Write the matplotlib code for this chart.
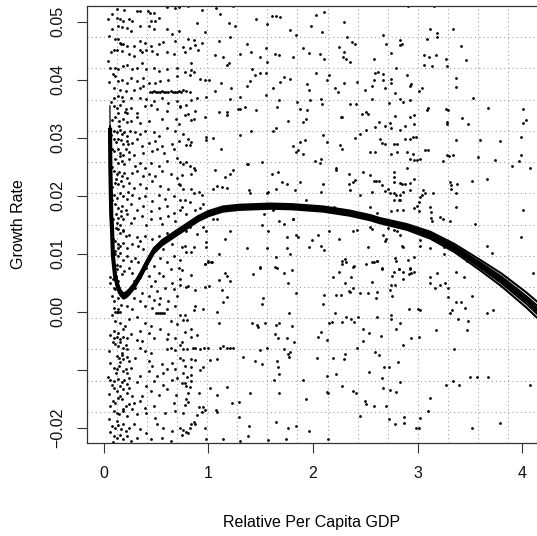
import matplotlib
matplotlib.use("Agg")
import matplotlib.pyplot as plt
import numpy as np

plt.rcParams['font.family'] = ['Liberation Sans', 'DejaVu Sans']

# scatter: (relative per capita gdp, growth rate)
pts_band_top = [
    (0.08, 0.0514), (0.13, 0.0522), (0.20, 0.0521), (0.32, 0.0519), (0.35, 0.0518), (0.42, 0.0519), (0.44, 0.0515),
    (0.48, 0.0515), (0.61, 0.0526), (0.68, 0.0524), (0.72, 0.0525), (0.13, 0.0507), (0.16, 0.0504), (0.19, 0.0501),
    (0.24, 0.0504), (0.27, 0.0501), (0.45, 0.0501), (0.49, 0.0501), (0.53, 0.0507), (0.14, 0.0493), (0.18, 0.0491),
    (0.22, 0.0490), (0.26, 0.0484), (0.35, 0.0493), (0.43, 0.0493), (0.48, 0.0487), (0.61, 0.0487), (0.65, 0.0478),
    (0.72, 0.0484), (0.11, 0.0470), (0.14, 0.0470), (0.16, 0.0464), (0.19, 0.0461), (0.22, 0.0458), (0.29, 0.0458),
    (0.35, 0.0467), (0.40, 0.0464), (0.45, 0.0458), (0.53, 0.0461), (0.57, 0.0465), (0.68, 0.0467), (0.10, 0.0452),
    (0.13, 0.0452), (0.18, 0.0449), (0.24, 0.0444), (0.29, 0.0441), (0.35, 0.0452), (0.37, 0.0447), (0.41, 0.0452),
    (0.46, 0.0449), (0.51, 0.0444), (0.61, 0.0447), (0.67, 0.0444), (0.06, 0.0421), (0.11, 0.0421), (0.14, 0.0418),
    (0.19, 0.0424), (0.22, 0.0426), (0.27, 0.0418), (0.32, 0.0421), (0.37, 0.0429), (0.41, 0.0418), (0.48, 0.0421),
    (0.53, 0.0415), (0.61, 0.0418), (0.70, 0.0421), (0.11, 0.0406), (0.14, 0.0398), (0.18, 0.0400), (0.22, 0.0395),
    (0.26, 0.0403), (0.32, 0.0398), (0.38, 0.0403), (0.43, 0.0395), (0.49, 0.0395), (0.54, 0.0398), (0.62, 0.0400),
    (0.70, 0.0406), (0.10, 0.0386), (0.16, 0.0383), (0.21, 0.0380), (0.29, 0.0383), (0.35, 0.0386), (0.38, 0.0389),
    (0.44, 0.0379), (0.46, 0.0378), (0.48, 0.0380), (0.50, 0.0379), (0.52, 0.0378), (0.54, 0.0379), (0.56, 0.0380),
    (0.58, 0.0379), (0.60, 0.0378), (0.62, 0.0379), (0.64, 0.0380), (0.66, 0.0379), (0.68, 0.0378), (0.70, 0.0379),
    (0.72, 0.0380), (0.10, 0.0369), (0.14, 0.0372), (0.19, 0.0363), (0.26, 0.0369), (0.35, 0.0369), (0.41, 0.0366),
    (0.48, 0.0363), (0.56, 0.0369), (0.62, 0.0360), (0.70, 0.0363), (0.10, 0.0355), (0.13, 0.0352), (0.16, 0.0357),
    (0.21, 0.0349), (0.26, 0.0352), (0.32, 0.0343), (0.40, 0.0355), (0.45, 0.0357), (0.51, 0.0349), (0.61, 0.0346),
    (0.73, 0.0355), (0.14, 0.0343), (0.22, 0.0343),
]

pts_band_upper = [
    (0.11, 0.0335), (0.15, 0.0329), (0.19, 0.0332), (0.22, 0.0327), (0.26, 0.0329), (0.32, 0.0335), (0.35, 0.0326),
    (0.43, 0.0329), (0.56, 0.0332), (0.69, 0.0333), (0.72, 0.0323), (0.10, 0.0312), (0.13, 0.0309), (0.16, 0.0314),
    (0.18, 0.0306), (0.20, 0.0310), (0.22, 0.0303), (0.25, 0.0312), (0.30, 0.0309), (0.35, 0.0306), (0.40, 0.0312),
    (0.48, 0.0309), (0.53, 0.0303), (0.61, 0.0317), (0.68, 0.0312), (0.10, 0.0297), (0.12, 0.0293), (0.14, 0.0298),
    (0.17, 0.0296), (0.19, 0.0289), (0.22, 0.0294), (0.27, 0.0291), (0.32, 0.0297), (0.37, 0.0286), (0.43, 0.0291),
    (0.49, 0.0294), (0.56, 0.0286), (0.65, 0.0289), (0.72, 0.0294), (0.10, 0.0277), (0.14, 0.0280), (0.16, 0.0273),
    (0.19, 0.0270), (0.21, 0.0280), (0.24, 0.0275), (0.29, 0.0271), (0.38, 0.0274), (0.46, 0.0277), (0.51, 0.0280),
    (0.58, 0.0273), (0.67, 0.0280), (0.11, 0.0263), (0.14, 0.0257), (0.18, 0.0260), (0.20, 0.0254), (0.24, 0.0263),
    (0.30, 0.0251), (0.35, 0.0257), (0.40, 0.0248), (0.45, 0.0257), (0.53, 0.0251), (0.61, 0.0260), (0.70, 0.0265),
    (0.10, 0.0243), (0.13, 0.0237), (0.15, 0.0241), (0.18, 0.0234), (0.20, 0.0239), (0.22, 0.0231), (0.27, 0.0240),
    (0.32, 0.0243), (0.38, 0.0234), (0.43, 0.0237), (0.49, 0.0234), (0.56, 0.0243), (0.64, 0.0237), (0.70, 0.0231),
    (0.11, 0.0222), (0.14, 0.0220), (0.17, 0.0225), (0.19, 0.0217), (0.24, 0.0222), (0.29, 0.0214), (0.35, 0.0220),
    (0.41, 0.0214), (0.46, 0.0225), (0.54, 0.0217), (0.62, 0.0211), (0.72, 0.0220), (0.10, 0.0202), (0.13, 0.0196),
    (0.16, 0.0204), (0.19, 0.0199), (0.22, 0.0194), (0.27, 0.0202), (0.34, 0.0196), (0.40, 0.0199), (0.46, 0.0191),
    (0.53, 0.0202), (0.59, 0.0194), (0.67, 0.0199), (0.11, 0.0185), (0.14, 0.0179), (0.18, 0.0182), (0.21, 0.0176),
    (0.26, 0.0185), (0.32, 0.0176), (0.38, 0.0182), (0.45, 0.0174), (0.53, 0.0179), (0.61, 0.0182), (0.67, 0.0171),
    (0.73, 0.0176), (0.12, 0.0168), (0.14, 0.0162), (0.17, 0.0165), (0.19, 0.0159), (0.22, 0.0168), (0.29, 0.0162),
    (0.37, 0.0165), (0.45, 0.0159), (0.54, 0.0162), (0.62, 0.0165), (0.68, 0.0156), (0.13, 0.0153), (0.16, 0.0150),
    (0.26, 0.0153), (0.41, 0.0150), (0.56, 0.0152),
]

pts_band_mid = [
    (0.12, 0.0145), (0.14, 0.0142), (0.16, 0.0136), (0.19, 0.0139), (0.21, 0.0130), (0.24, 0.0133), (0.32, 0.0128),
    (0.35, 0.0122), (0.40, 0.0130), (0.46, 0.0125), (0.53, 0.0130), (0.61, 0.0136), (0.70, 0.0139), (0.11, 0.0122),
    (0.14, 0.0116), (0.16, 0.0113), (0.19, 0.0119), (0.22, 0.0110), (0.27, 0.0116), (0.33, 0.0113), (0.38, 0.0108),
    (0.57, 0.0108), (0.65, 0.0116), (0.11, 0.0099), (0.14, 0.0096), (0.16, 0.0102), (0.19, 0.0090), (0.22, 0.0096),
    (0.26, 0.0088), (0.30, 0.0093), (0.33, 0.0085), (0.54, 0.0093), (0.61, 0.0085), (0.67, 0.0096), (0.73, 0.0090),
    (0.10, 0.0076), (0.13, 0.0073), (0.16, 0.0079), (0.20, 0.0070), (0.24, 0.0076), (0.27, 0.0067), (0.41, 0.0076),
    (0.48, 0.0079), (0.53, 0.0067), (0.64, 0.0073), (0.72, 0.0076), (0.06, 0.0059), (0.09, 0.0056), (0.12, 0.0062),
    (0.14, 0.0053), (0.29, 0.0053), (0.35, 0.0059), (0.43, 0.0062), (0.49, 0.0053), (0.57, 0.0062), (0.65, 0.0050),
    (0.73, 0.0056), (0.10, 0.0041), (0.11, 0.0039), (0.24, 0.0036), (0.30, 0.0041), (0.37, 0.0033), (0.45, 0.0044),
    (0.51, 0.0036), (0.59, 0.0041), (0.67, 0.0039), (0.08, 0.0027), (0.10, 0.0019), (0.29, 0.0024), (0.35, 0.0019),
    (0.43, 0.0027), (0.48, 0.0021), (0.54, 0.0024), (0.62, 0.0019), (0.70, 0.0027), (0.10, 0.0007), (0.14, 0.0004),
    (0.22, 0.0010), (0.27, 0.0005), (0.40, 0.0010), (0.46, 0.0007), (0.53, 0.0013), (0.61, 0.0004), (0.68, 0.0010),
    (0.11, 0.0000), (0.125, 0.0000), (0.14, 0.0000), (0.155, 0.0000), (0.50, -0.0002), (0.52, -0.0002),
    (0.54, -0.0002), (0.56, -0.0002), (0.58, -0.0002), (0.11, -0.0016), (0.16, -0.0019), (0.24, -0.0013),
    (0.32, -0.0010), (0.40, -0.0019), (0.45, -0.0025), (0.64, -0.0016), (0.70, -0.0022), (0.10, -0.0033),
    (0.14, -0.0036), (0.19, -0.0030), (0.26, -0.0039), (0.35, -0.0033), (0.43, -0.0036), (0.54, -0.0030),
    (0.62, -0.0039),
]

pts_band_low = [
    (0.10, -0.0045), (0.13, -0.0044), (0.16, -0.0047), (0.19, -0.0043), (0.22, -0.0045), (0.32, -0.0048),
    (0.37, -0.0051), (0.48, -0.0045), (0.61, -0.0047), (0.68, -0.0045), (0.11, -0.0056), (0.14, -0.0059),
    (0.16, -0.0053), (0.19, -0.0062), (0.21, -0.0058), (0.22, -0.0065), (0.35, -0.0062), (0.40, -0.0068),
    (0.45, -0.0071), (0.61, -0.0065), (0.64, -0.0062), (0.68, -0.0066), (0.13, -0.0076), (0.15, -0.0079),
    (0.18, -0.0074), (0.19, -0.0082), (0.22, -0.0078), (0.16, -0.0087), (0.24, -0.0085), (0.30, -0.0079),
    (0.43, -0.0085), (0.46, -0.0094), (0.56, -0.0091), (0.61, -0.0099), (0.65, -0.0088), (0.73, -0.0079),
    (0.10, -0.0097), (0.13, -0.0099), (0.15, -0.0094), (0.19, -0.0102), (0.21, -0.0098), (0.22, -0.0105),
    (0.26, -0.0097), (0.35, -0.0111), (0.43, -0.0102), (0.51, -0.0111), (0.57, -0.0105), (0.68, -0.0099),
    (0.06, -0.0117), (0.10, -0.0120), (0.14, -0.0116), (0.18, -0.0122), (0.20, -0.0118), (0.22, -0.0125),
    (0.24, -0.0114), (0.32, -0.0122), (0.41, -0.0128), (0.48, -0.0120), (0.57, -0.0127), (0.65, -0.0117),
    (0.70, -0.0114), (0.10, -0.0131), (0.13, -0.0137), (0.16, -0.0128), (0.19, -0.0134), (0.22, -0.0140),
    (0.24, -0.0131), (0.27, -0.0145), (0.37, -0.0145), (0.45, -0.0137), (0.53, -0.0143), (0.61, -0.0133),
    (0.69, -0.0143), (0.09, -0.0154), (0.11, -0.0157), (0.14, -0.0148), (0.18, -0.0151), (0.21, -0.0163),
    (0.24, -0.0160), (0.29, -0.0157), (0.35, -0.0154), (0.40, -0.0166), (0.48, -0.0163), (0.67, -0.0157),
    (0.10, -0.0171), (0.13, -0.0174), (0.15, -0.0177), (0.19, -0.0171), (0.22, -0.0180), (0.27, -0.0168),
    (0.32, -0.0177), (0.41, -0.0174), (0.49, -0.0183), (0.59, -0.0174), (0.68, -0.0171), (0.08, -0.0197),
    (0.11, -0.0200), (0.14, -0.0196), (0.17, -0.0203), (0.19, -0.0193), (0.21, -0.0206), (0.24, -0.0200),
    (0.29, -0.0194), (0.35, -0.0203), (0.41, -0.0209), (0.51, -0.0194), (0.57, -0.0200), (0.65, -0.0206),
    (0.73, -0.0200), (0.10, -0.0214), (0.13, -0.0217), (0.16, -0.0212), (0.19, -0.0220), (0.22, -0.0214),
    (0.26, -0.0223), (0.32, -0.0217), (0.45, -0.0220), (0.56, -0.0217), (0.64, -0.0223),
]

pts_band_extra = [
    (0.045, 0.0505), (0.085, 0.0488), (0.055, 0.0476), (0.165, 0.0462), (0.075, 0.0447), (0.045, 0.0433),
    (0.095, 0.0410), (0.055, 0.0396), (0.175, 0.0371), (0.075, 0.0362), (0.205, 0.0344), (0.085, 0.0331),
    (0.145, 0.0320), (0.075, 0.0305), (0.235, 0.0289), (0.085, 0.0281), (0.155, 0.0268), (0.085, 0.0249),
    (0.115, 0.0229), (0.085, 0.0215), (0.235, 0.0206), (0.085, 0.0192), (0.165, 0.0174), (0.090, 0.0160),
    (0.185, 0.0141), (0.095, 0.0126), (0.135, 0.0110), (0.105, 0.0104), (0.125, 0.0080), (0.175, 0.0065),
    (0.065, 0.0049), (0.135, 0.0023), (0.165, 0.0011), (0.085, -0.0006), (0.205, -0.0025), (0.065, -0.0040),
    (0.095, -0.0052), (0.055, -0.0068), (0.175, -0.0071), (0.065, -0.0089), (0.115, -0.0105), (0.045, -0.0112),
    (0.085, -0.0126), (0.055, -0.0142), (0.155, -0.0146), (0.065, -0.0162), (0.185, -0.0168), (0.055, -0.0185),
    (0.125, -0.0189), (0.065, -0.0208), (0.095, -0.0224),
]

pts_mid_upper = [
    (0.81, 0.0527), (0.94, 0.0520), (1.07, 0.0523), (1.11, 0.0514), (1.24, 0.0527), (1.46, 0.0505), (1.56, 0.0496),
    (1.61, 0.0510), (1.65, 0.0509), (1.69, 0.0508), (1.78, 0.0486), (1.84, 0.0477), (2.03, 0.0511), (2.11, 0.0517),
    (1.98, 0.0492), (2.09, 0.0482), (2.30, 0.0500), (0.89, 0.0498), (0.97, 0.0482), (1.20, 0.0498), (1.26, 0.0493),
    (1.21, 0.0474), (0.76, 0.0456), (0.81, 0.0471), (0.86, 0.0468), (0.87, 0.0459), (0.90, 0.0451), (0.94, 0.0463),
    (0.83, 0.0454), (0.78, 0.0448), (1.06, 0.0442), (1.14, 0.0440), (1.10, 0.0467), (1.30, 0.0445), (1.37, 0.0462),
    (1.41, 0.0448), (1.49, 0.0440), (1.55, 0.0454), (1.64, 0.0445), (1.68, 0.0442), (1.81, 0.0439), (1.91, 0.0454),
    (1.96, 0.0446), (2.07, 0.0445), (2.11, 0.0435), (2.25, 0.0457), (2.30, 0.0448), (2.29, 0.0440), (2.32, 0.0435),
    (2.35, 0.0430), (2.37, 0.0465), (2.40, 0.0462), (2.33, 0.0474), (0.84, 0.0428), (1.18, 0.0425), (1.20, 0.0429),
    (1.42, 0.0419), (1.56, 0.0431), (1.49, 0.0412), (0.84, 0.0417), (0.78, 0.0413), (0.86, 0.0413), (0.83, 0.0408),
    (0.92, 0.0402), (0.97, 0.0399), (1.01, 0.0399), (1.12, 0.0394), (1.22, 0.0385), (1.37, 0.0389), (1.40, 0.0397),
    (1.45, 0.0408), (1.55, 0.0412), (1.62, 0.0386), (1.69, 0.0396), (1.72, 0.0405), (1.78, 0.0401), (1.94, 0.0393),
    (1.96, 0.0383), (2.03, 0.0411), (2.13, 0.0399), (2.15, 0.0408), (2.21, 0.0385), (2.24, 0.0379), (2.30, 0.0394),
    (2.42, 0.0396), (0.74, 0.0379), (0.76, 0.0382), (0.79, 0.0381), (0.83, 0.0379), (0.89, 0.0369), (0.84, 0.0365),
    (0.98, 0.0370), (1.06, 0.0381), (1.21, 0.0366), (1.30, 0.0370), (1.30, 0.0350), (1.35, 0.0353), (1.46, 0.0347),
    (1.55, 0.0374), (1.68, 0.0365), (1.66, 0.0353), (1.76, 0.0329), (1.85, 0.0362), (1.88, 0.0350), (1.94, 0.0347),
    (1.93, 0.0333), (1.91, 0.0327), (1.97, 0.0365), (2.08, 0.0367), (2.09, 0.0358), (2.27, 0.0336), (2.28, 0.0335),
    (2.35, 0.0358), (2.41, 0.0358), (0.73, 0.0353), (0.79, 0.0356), (0.81, 0.0341), (0.87, 0.0346), (0.86, 0.0333),
    (0.84, 0.0330), (0.78, 0.0339), (0.97, 0.0336), (1.10, 0.0344), (1.18, 0.0344), (1.18, 0.0339), (1.28, 0.0350),
    (0.76, 0.0307), (0.81, 0.0298), (0.84, 0.0293), (0.83, 0.0287), (0.79, 0.0287), (0.98, 0.0301), (0.98, 0.0296),
    (1.05, 0.0300), (1.12, 0.0280), (1.30, 0.0304), (1.41, 0.0312), (1.65, 0.0317), (1.62, 0.0312), (1.81, 0.0286),
    (1.88, 0.0293), (1.86, 0.0278), (1.84, 0.0275), (1.91, 0.0272), (1.92, 0.0296), (2.10, 0.0304), (2.13, 0.0293),
    (2.26, 0.0287), (2.28, 0.0281), (2.40, 0.0300), (0.73, 0.0258), (0.76, 0.0255), (0.79, 0.0258), (0.83, 0.0251),
    (0.86, 0.0248), (0.87, 0.0244), (0.84, 0.0238), (0.75, 0.0235), (1.06, 0.0244), (1.16, 0.0232), (1.21, 0.0238),
    (1.24, 0.0244), (1.37, 0.0255), (1.38, 0.0255), (1.51, 0.0258), (1.61, 0.0238), (1.67, 0.0241), (1.70, 0.0224),
    (1.75, 0.0221), (1.88, 0.0224), (2.02, 0.0260), (2.07, 0.0256), (2.08, 0.0264), (2.22, 0.0247), (2.22, 0.0244),
    (2.34, 0.0238), (2.38, 0.0224), (2.40, 0.0227), (0.73, 0.0218), (0.76, 0.0212), (0.84, 0.0212), (0.86, 0.0204),
    (0.91, 0.0206), (0.94, 0.0201), (1.05, 0.0212), (1.08, 0.0216), (1.13, 0.0215), (1.18, 0.0214), (1.39, 0.0210),
    (1.40, 0.0204), (1.56, 0.0205), (1.57, 0.0206), (1.65, 0.0212), (1.83, 0.0209), (1.93, 0.0192), (2.08, 0.0206),
    (2.10, 0.0221), (2.34, 0.0221), (2.35, 0.0209), (0.73, 0.0192), (0.78, 0.0192), (0.83, 0.0189), (0.87, 0.0175),
    (0.92, 0.0178), (0.95, 0.0186), (0.75, 0.0181), (0.79, 0.0169), (1.53, 0.0169), (1.62, 0.0176), (1.68, 0.0157),
    (1.81, 0.0160), (1.94, 0.0181), (2.20, 0.0181), (2.21, 0.0178), (0.83, 0.0146), (0.79, 0.0140), (0.89, 0.0134),
    (0.95, 0.0146), (0.98, 0.0140), (1.05, 0.0160), (1.08, 0.0160), (1.21, 0.0140), (1.16, 0.0126), (1.51, 0.0149),
    (1.57, 0.0140), (1.72, 0.0151), (1.75, 0.0128), (1.81, 0.0160), (1.84, 0.0132), (1.86, 0.0128), (1.99, 0.0123),
    (2.05, 0.0132), (2.08, 0.0114), (2.15, 0.0140), (2.25, 0.0126), (2.38, 0.0140), (2.42, 0.0141), (0.75, 0.0111),
    (0.78, 0.0114), (0.79, 0.0103), (0.84, 0.0103), (0.86, 0.0111), (0.98, 0.0120), (0.98, 0.0111), (1.10, 0.0100),
    (1.37, 0.0110), (1.56, 0.0109), (1.75, 0.0110), (1.78, 0.0100), (1.96, 0.0111), (2.11, 0.0106), (2.28, 0.0087),
    (2.31, 0.0091), (2.38, 0.0077), (0.97, 0.0083), (1.00, 0.0088), (1.03, 0.0086), (1.49, 0.0077), (1.64, 0.0077),
    (1.65, 0.0094),
]

pts_right_upper = [
    (2.91, 0.0527), (3.16, 0.0527), (2.67, 0.0477), (2.70, 0.0462), (2.83, 0.0468), (2.85, 0.0462), (2.83, 0.0459),
    (3.12, 0.0488), (3.19, 0.0480), (3.19, 0.0473), (3.09, 0.0471), (3.34, 0.0488), (3.41, 0.0458), (2.75, 0.0446),
    (2.58, 0.0436), (3.06, 0.0442), (3.11, 0.0439), (3.18, 0.0442), (3.27, 0.0436), (3.46, 0.0434), (3.06, 0.0425),
    (3.14, 0.0423), (3.28, 0.0423), (2.79, 0.0421), (2.59, 0.0411), (2.62, 0.0413), (2.67, 0.0409), (2.58, 0.0399),
    (2.67, 0.0399), (2.75, 0.0402), (2.75, 0.0395), (2.90, 0.0408), (2.93, 0.0390), (2.94, 0.0393), (2.50, 0.0382),
    (2.56, 0.0389), (2.69, 0.0386), (2.78, 0.0377), (3.04, 0.0385), (3.01, 0.0380), (3.37, 0.0403), (3.37, 0.0388),
    (2.56, 0.0366), (2.83, 0.0366), (2.86, 0.0362), (2.93, 0.0365), (2.73, 0.0360), (3.10, 0.0352), (3.09, 0.0348),
    (3.27, 0.0350), (3.29, 0.0347), (3.53, 0.0369), (3.67, 0.0352), (3.42, 0.0334), (3.48, 0.0323), (4.01, 0.0350),
    (4.04, 0.0331), (4.01, 0.0325), (2.47, 0.0341), (2.51, 0.0344), (2.53, 0.0341), (2.78, 0.0337), (2.74, 0.0325),
    (2.69, 0.0321), (2.63, 0.0327), (2.59, 0.0318), (2.75, 0.0316), (2.83, 0.0313), (2.88, 0.0320), (2.93, 0.0336),
    (2.97, 0.0339), (2.97, 0.0323), (2.51, 0.0314), (2.45, 0.0307), (2.96, 0.0302), (2.98, 0.0302), (2.64, 0.0298),
    (2.66, 0.0291), (2.69, 0.0289), (2.77, 0.0290), (2.80, 0.0289), (2.88, 0.0297), (2.93, 0.0297), (3.07, 0.0279),
    (3.10, 0.0279), (2.55, 0.0275), (2.59, 0.0275), (2.75, 0.0272), (2.80, 0.0275), (2.90, 0.0275), (2.96, 0.0272),
    (2.93, 0.0264), (2.97, 0.0261), (2.99, 0.0262), (3.02, 0.0264), (3.28, 0.0270), (3.30, 0.0268), (3.34, 0.0271),
    (3.28, 0.0323), (3.28, 0.0327), (3.37, 0.0296), (3.58, 0.0266), (3.74, 0.0262), (3.79, 0.0294), (3.60, 0.0296),
    (3.99, 0.0301), (3.99, 0.0271), (3.97, 0.0259), (3.90, 0.0251), (4.07, 0.0248), (3.24, 0.0259), (2.48, 0.0241),
    (2.55, 0.0235), (2.58, 0.0225), (2.60, 0.0225), (2.63, 0.0225), (2.66, 0.0218), (2.77, 0.0241), (2.77, 0.0233),
    (2.77, 0.0224), (2.83, 0.0222), (2.85, 0.0220), (2.88, 0.0221), (2.72, 0.0212), (2.69, 0.0208), (2.74, 0.0205),
    (2.77, 0.0205), (2.79, 0.0202), (2.83, 0.0202), (2.86, 0.0206), (2.93, 0.0222), (2.93, 0.0209), (2.97, 0.0228),
    (2.90, 0.0247), (3.31, 0.0224), (3.32, 0.0212), (3.38, 0.0220), (3.37, 0.0205), (3.32, 0.0218), (3.52, 0.0225),
    (3.66, 0.0229), (3.05, 0.0209), (3.04, 0.0202), (3.02, 0.0197), (3.01, 0.0189), (2.99, 0.0183), (3.07, 0.0204),
    (3.15, 0.0205), (2.45, 0.0201), (2.56, 0.0206), (2.77, 0.0192), (2.82, 0.0192), (2.83, 0.0192), (2.55, 0.0180),
    (2.61, 0.0170), (2.75, 0.0174), (2.80, 0.0175), (2.86, 0.0176), (2.97, 0.0178), (3.01, 0.0174), (3.12, 0.0180),
    (3.13, 0.0172), (3.21, 0.0163), (3.24, 0.0159), (3.31, 0.0157), (3.37, 0.0180), (3.13, 0.0162), (3.14, 0.0157),
    (3.55, 0.0151), (4.01, 0.0175), (2.55, 0.0146), (2.56, 0.0143), (2.72, 0.0145), (2.77, 0.0141), (2.80, 0.0139),
    (2.67, 0.0132), (2.70, 0.0126), (2.69, 0.0122), (2.83, 0.0132), (2.85, 0.0114), (2.86, 0.0111), (3.02, 0.0124),
    (3.02, 0.0114), (3.25, 0.0100), (3.25, 0.0111), (3.32, 0.0111), (3.36, 0.0109), (3.12, 0.0110), (3.66, 0.0114),
    (3.71, 0.0101), (3.99, 0.0129), (2.53, 0.0111), (2.51, 0.0083), (2.58, 0.0086), (2.61, 0.0088), (2.78, 0.0093),
    (2.79, 0.0088), (2.91, 0.0090), (2.93, 0.0074), (2.82, 0.0074), (2.97, 0.0095), (3.47, 0.0088), (2.66, 0.0074),
]

pts_mid_lower = [
    (0.97, 0.0083), (1.00, 0.0086), (1.04, 0.0085), (0.75, 0.0072), (0.84, 0.0063), (1.10, 0.0055), (1.16, 0.0066),
    (1.18, 0.0061), (1.21, 0.0053), (1.43, 0.0065), (1.49, 0.0075), (1.66, 0.0075), (1.72, 0.0067), (1.80, 0.0072),
    (1.76, 0.0050), (1.84, 0.0033), (2.19, 0.0059), (2.25, 0.0069), (2.28, 0.0083), (2.32, 0.0086), (2.36, 0.0060),
    (2.39, 0.0079), (2.31, 0.0049), (2.35, 0.0034), (0.73, 0.0046), (0.79, 0.0043), (0.81, 0.0044), (0.87, 0.0038),
    (0.97, 0.0042), (1.01, 0.0044), (1.13, 0.0038), (1.14, 0.0017), (1.18, 0.0026), (1.52, 0.0023), (1.51, 0.0014),
    (2.10, 0.0014), (2.11, 0.0029), (2.22, 0.0029), (2.27, 0.0029), (2.34, 0.0036), (2.38, 0.0040), (0.73, -0.0006),
    (0.78, -0.0006), (0.86, 0.0003), (0.87, 0.0009), (0.95, 0.0004), (1.08, 0.0000), (1.10, -0.0020), (0.76, -0.0014),
    (0.80, -0.0014), (1.42, -0.0020), (1.47, -0.0023), (1.48, -0.0026), (1.54, -0.0020), (1.65, -0.0023),
    (1.68, -0.0019), (1.77, -0.0003), (1.80, -0.0025), (2.15, -0.0020), (2.18, -0.0017), (2.21, -0.0003),
    (2.28, -0.0017), (2.32, -0.0010), (2.36, -0.0012), (2.39, -0.0017), (2.43, -0.0009), (0.78, -0.0035),
    (0.84, -0.0029), (0.84, -0.0043), (0.89, -0.0040), (0.75, -0.0052), (0.73, -0.0058), (0.76, -0.0065),
    (0.80, -0.0065), (0.85, -0.0062), (0.87, -0.0062), (0.92, -0.0065), (0.96, -0.0063), (1.00, -0.0062),
    (1.11, -0.0063), (1.14, -0.0059), (1.18, -0.0062), (1.21, -0.0062), (1.24, -0.0063), (1.64, -0.0039),
    (1.67, -0.0046), (1.75, -0.0046), (1.82, -0.0052), (2.05, -0.0044), (2.08, -0.0035), (2.13, -0.0049),
    (1.49, -0.0066), (1.56, -0.0062), (1.72, -0.0065), (1.78, -0.0069), (1.77, -0.0078), (1.76, -0.0073),
    (1.45, -0.0085), (1.51, -0.0090), (1.66, -0.0085), (1.67, -0.0095), (1.68, -0.0107), (1.63, -0.0118),
    (2.31, -0.0073), (2.30, -0.0081), (2.19, -0.0079), (2.04, -0.0079), (2.22, -0.0107), (2.13, -0.0111),
    (2.42, -0.0063), (0.76, -0.0084), (0.84, -0.0081), (0.87, -0.0084), (0.78, -0.0094), (0.84, -0.0096),
    (0.92, -0.0100), (0.95, -0.0096), (1.02, -0.0084), (1.08, -0.0082), (1.33, -0.0078), (0.76, -0.0105),
    (0.80, -0.0112), (0.84, -0.0109), (0.75, -0.0123), (0.78, -0.0123), (0.79, -0.0128), (0.84, -0.0119),
    (0.83, -0.0130), (0.91, -0.0141), (1.02, -0.0132), (1.08, -0.0144), (1.18, -0.0130), (1.23, -0.0157),
    (1.29, -0.0155), (1.40, -0.0141), (1.68, -0.0140), (1.91, -0.0118), (1.93, -0.0151), (2.13, -0.0138),
    (2.14, -0.0140), (2.28, -0.0128), (2.38, -0.0136), (2.41, -0.0140), (0.81, -0.0141), (0.79, -0.0150),
    (0.81, -0.0155), (0.78, -0.0161), (0.91, -0.0164), (0.95, -0.0165), (0.94, -0.0173), (0.97, -0.0169),
    (0.89, -0.0178), (0.76, -0.0175), (1.07, -0.0169), (1.08, -0.0173), (0.86, -0.0190), (0.84, -0.0193),
    (0.87, -0.0193), (0.83, -0.0201), (0.76, -0.0204), (0.79, -0.0207), (0.81, -0.0210), (0.75, -0.0213),
    (0.97, -0.0200), (0.98, -0.0219), (1.14, -0.0219), (1.29, -0.0181), (1.39, -0.0197), (1.38, -0.0215),
    (1.30, -0.0223), (1.57, -0.0221), (1.65, -0.0190), (1.76, -0.0201), (1.84, -0.0197), (1.96, -0.0206),
    (1.74, -0.0219), (2.14, -0.0219),
]

pts_right_lower = [
    (2.56, 0.0085), (2.61, 0.0088), (2.77, 0.0069), (2.82, 0.0073), (2.86, 0.0069), (2.93, 0.0075), (2.97, 0.0069),
    (2.76, 0.0062), (2.78, 0.0046), (2.75, 0.0046), (2.86, 0.0056), (2.92, 0.0065), (2.94, 0.0066), (3.12, 0.0060),
    (3.19, 0.0067), (3.12, 0.0049), (3.17, 0.0040), (3.21, 0.0046), (3.26, 0.0049), (3.29, 0.0040), (3.37, 0.0069),
    (3.44, 0.0059), (2.45, 0.0033), (2.53, 0.0032), (2.61, 0.0034), (2.60, 0.0023), (2.56, 0.0052), (2.66, 0.0076),
    (2.74, 0.0038), (2.76, 0.0027), (2.92, 0.0004), (3.00, 0.0004), (3.02, 0.0003), (3.29, 0.0025), (3.37, 0.0017),
    (3.41, 0.0016), (3.45, 0.0006), (3.33, 0.0003), (3.31, -0.0003), (3.52, 0.0027), (3.66, -0.0002), (3.72, 0.0003),
    (4.10, 0.0067), (2.48, -0.0029), (2.54, -0.0036), (2.48, -0.0050), (2.61, -0.0009), (2.75, -0.0006),
    (2.75, -0.0013), (2.79, -0.0029), (2.83, -0.0019), (2.65, -0.0042), (2.86, -0.0058), (2.94, -0.0046),
    (3.01, -0.0043), (3.18, -0.0032), (3.39, -0.0013), (3.48, -0.0016), (3.47, -0.0031), (3.35, -0.0065),
    (2.59, -0.0069), (2.63, -0.0075), (2.68, -0.0095), (2.73, -0.0095), (2.81, -0.0086), (2.54, -0.0104),
    (2.66, -0.0115), (2.67, -0.0132), (2.74, -0.0135), (2.79, -0.0138), (2.83, -0.0122), (3.27, -0.0126),
    (3.34, -0.0119), (3.40, -0.0126), (3.50, -0.0113), (3.57, -0.0113), (3.67, -0.0113), (4.07, -0.0127),
    (2.50, -0.0154), (2.51, -0.0160), (2.58, -0.0162), (2.70, -0.0162), (3.12, -0.0148), (2.45, -0.0179),
    (2.73, -0.0185), (2.78, -0.0194), (2.87, -0.0181), (2.87, -0.0192), (3.02, -0.0184), (2.98, -0.0201),
    (3.01, -0.0200), (3.10, -0.0171), (3.52, -0.0201), (3.79, -0.0192),
]

# fitted curve (centre of the band of curves) and half-width of the band
curve_x = [0.062, 0.065, 0.074, 0.080, 0.090, 0.110, 0.135, 0.160, 0.190, 0.215, 0.240, 0.290, 0.350, 0.420,
           0.480, 0.560, 0.650, 0.800, 0.900, 1.000, 1.140, 1.300, 1.590, 1.800, 2.100, 2.350, 2.550, 2.640,
           2.900, 3.120, 3.350, 3.600, 3.800, 4.040, 4.150]
curve_mid = [0.0317, 0.0250, 0.0165, 0.0148, 0.0096, 0.0062, 0.0044, 0.0033, 0.0027, 0.0029, 0.0033, 0.0044,
             0.0062, 0.0086, 0.0105, 0.0119, 0.0130, 0.0148, 0.0160, 0.0169, 0.0177, 0.0180, 0.0182, 0.0181,
             0.0177, 0.0170, 0.0162, 0.0157, 0.0146, 0.0132, 0.0110, 0.0080, 0.0055, 0.0020, 0.0002]
curve_spread = [0.00045] * 28 + [0.0005, 0.0006, 0.0007, 0.0009, 0.0011, 0.0013, 0.0014]
band_offsets = [-1.0, -0.5, 0.0, 0.5, 1.0]
band_widths = [1.5, 1.5, 3.0, 1.5, 1.5]
tip_x = [0.061, 0.062]
tip_y = [0.0355, 0.0317]

x_ticks = [0, 1, 2, 3, 4]
y_ticks = [-0.02, -0.01, 0.00, 0.01, 0.02, 0.03, 0.04, 0.05]
y_tick_labels = ["\u22120.02", "", "0.00", "0.01", "0.02", "0.03", "0.04", "0.05"]

fig = plt.figure(figsize=(5.37, 5.36), dpi=100)
ax = fig.add_axes([87 / 537, 1 - 443 / 536, 451 / 537, 437 / 536])

xlim = (-0.158, 4.150)
ylim = (-0.02264, 0.05271)
ax.set_xlim(*xlim)
ax.set_ylim(*ylim)

# dotted grid splits the plot region into equal cells (15 x 14)
grid_style = dict(color='#9a9a9a', lw=0.75, ls=(0, (1, 3)), zorder=1)
for k in range(1, 15):
    ax.axvline(xlim[0] + k * (xlim[1] - xlim[0]) / 15, **grid_style)
for k in range(1, 14):
    ax.axhline(ylim[0] + k * (ylim[1] - ylim[0]) / 14, **grid_style)

groups = [pts_band_top, pts_band_upper, pts_band_mid, pts_band_low, pts_band_extra,
          pts_mid_upper, pts_right_upper, pts_mid_lower, pts_right_lower]
for pts in groups:
    gx, gy = zip(*pts)
    ax.plot(gx, gy, 'o', color='black', ms=2.0, mew=0, zorder=2)

mid = np.array(curve_mid)
spread = np.array(curve_spread)
for off, w in zip(band_offsets, band_widths):
    ax.plot(curve_x, mid + off * spread, color='black', lw=w, solid_capstyle='butt', zorder=3)
ax.plot(tip_x, tip_y, color='black', lw=0.9, zorder=3)

ax.set_xticks(x_ticks)
ax.set_yticks(y_ticks)
ax.set_yticklabels(y_tick_labels, rotation=90, va='center')
ax.tick_params(axis='both', direction='out', length=7.5, width=0.8, color='#333333',
               labelsize=11.5, labelcolor='#111111')
ax.tick_params(axis='x', pad=9)
ax.tick_params(axis='y', pad=8)

for side in ['left', 'bottom', 'top']:
    ax.spines[side].set_color('#333333')
    ax.spines[side].set_linewidth(0.9)
ax.spines['right'].set_visible(False)

fig.text(312 / 537, 1 - 522 / 536, "Relative Per Capita GDP", ha='center', va='center', fontsize=11.5)
fig.text(19 / 537, 1 - 224.5 / 536, "Growth Rate", ha='center', va='center', rotation=90, fontsize=11.5)

fig.savefig("out.png", dpi=100)
